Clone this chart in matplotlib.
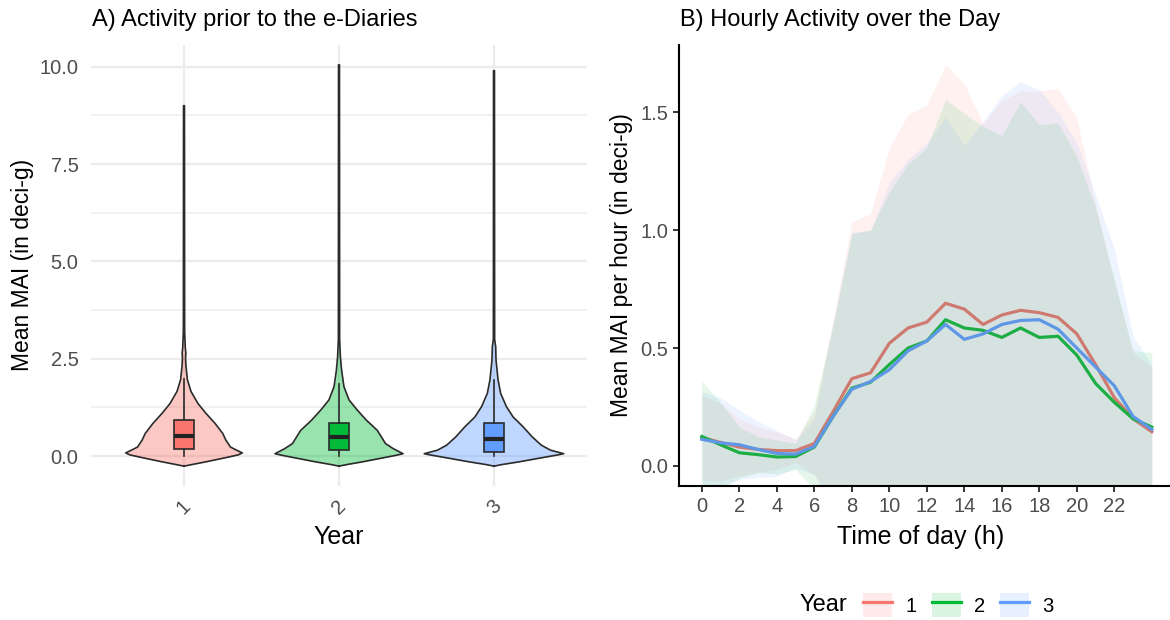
import numpy as np
import matplotlib.pyplot as plt
from matplotlib.lines import Line2D
from matplotlib.patches import Patch
from matplotlib.legend_handler import HandlerTuple

plt.rcParams['font.family'] = ['Liberation Sans', 'DejaVu Sans']

years = ['1', '2', '3']
fill_cols = ['#F8766D', '#00BA38', '#619CFF']
line_cols = ['#CF7A70', '#1DAD45', '#5E97E6']

# --- panel A: violin outlines (y level, half width in x units) ---
violin_y1 = [-0.26, -0.22, -0.15, -0.05, 0.03, 0.08, 0.15, 0.23, 0.41, 0.58, 0.84, 1.09, 1.35, 1.66, 1.96, 2.3, 2.5, 2.65, 2.8, 3.2, 9.0]
violin_w1 = [0.0, 0.05, 0.14, 0.26, 0.35, 0.376, 0.34, 0.30, 0.27, 0.25, 0.20, 0.143, 0.09, 0.045, 0.022, 0.013, 0.010, 0.012, 0.008, 0.004, 0.003]
violin_y2 = [-0.26, -0.22, -0.15, -0.05, 0.02, 0.06, 0.19, 0.32, 0.45, 0.66, 0.92, 1.18, 1.44, 1.78, 2.2, 2.55, 3.0, 10.05]
violin_w2 = [0.0, 0.05, 0.15, 0.28, 0.37, 0.413, 0.35, 0.30, 0.28, 0.247, 0.177, 0.118, 0.065, 0.032, 0.017, 0.009, 0.004, 0.003]
violin_y3 = [-0.26, -0.22, -0.15, -0.05, 0.02, 0.06, 0.15, 0.28, 0.49, 0.75, 1.0, 1.27, 1.61, 1.96, 2.47, 2.8, 3.0, 9.9]
violin_w3 = [0.0, 0.05, 0.16, 0.30, 0.40, 0.45, 0.365, 0.305, 0.247, 0.188, 0.124, 0.08, 0.043, 0.026, 0.013, 0.011, 0.004, 0.003]

# box plot stats per year
box_lo = [0.0, 0.0, 0.0]
box_q1 = [0.19, 0.16, 0.10]
box_med = [0.51, 0.49, 0.45]
box_q3 = [0.92, 0.85, 0.85]
box_hi = [1.97, 1.85, 1.96]

# --- panel B: hourly means and upper ribbon (mean + sd) ---
hours = np.arange(25)
mean_y1 = [0.12, 0.10, 0.08, 0.07, 0.065, 0.065, 0.095, 0.23, 0.37, 0.395, 0.52, 0.585, 0.61, 0.69, 0.665, 0.60, 0.64, 0.66, 0.65, 0.63, 0.56, 0.43, 0.29, 0.20, 0.145]
mean_y2 = [0.125, 0.09, 0.056, 0.048, 0.038, 0.04, 0.08, 0.21, 0.33, 0.355, 0.43, 0.50, 0.53, 0.62, 0.585, 0.575, 0.545, 0.585, 0.545, 0.55, 0.47, 0.35, 0.27, 0.20, 0.165]
mean_y3 = [0.113, 0.098, 0.09, 0.07, 0.053, 0.05, 0.083, 0.21, 0.325, 0.358, 0.408, 0.488, 0.53, 0.60, 0.537, 0.56, 0.60, 0.617, 0.62, 0.58, 0.50, 0.42, 0.34, 0.21, 0.155]
upper_y1 = [0.30, 0.265, 0.20, 0.165, 0.145, 0.115, 0.23, 0.62, 1.035, 1.07, 1.35, 1.49, 1.53, 1.70, 1.62, 1.45, 1.55, 1.59, 1.59, 1.60, 1.475, 1.11, 0.78, 0.48, 0.42]
upper_y2 = [0.36, 0.27, 0.165, 0.125, 0.11, 0.095, 0.26, 0.60, 0.985, 1.0, 1.16, 1.28, 1.35, 1.555, 1.495, 1.44, 1.40, 1.545, 1.446, 1.456, 1.31, 1.095, 0.79, 0.49, 0.48]
upper_y3 = [0.315, 0.29, 0.237, 0.19, 0.15, 0.11, 0.20, 0.60, 0.99, 1.0, 1.2, 1.30, 1.37, 1.48, 1.36, 1.46, 1.57, 1.63, 1.595, 1.50, 1.37, 1.15, 0.92, 0.55, 0.43]

W, H = 1170, 620
fig = plt.figure(figsize=(W / 100, H / 100), dpi=100)
ax1 = fig.add_axes([91 / W, 1 - 486 / H, 496 / W, 441.4 / H])
ax2 = fig.add_axes([679.3 / W, 1 - 486 / H, 495 / W, 441 / H])

tick_grey = '#4D4D4D'

# violins
violins = [(violin_y1, violin_w1), (violin_y2, violin_w2), (violin_y3, violin_w3)]
for i, (vy, vw) in enumerate(violins):
    pos = i + 1
    vy = np.array(vy)
    vw = np.array(vw)
    ax1.fill_betweenx(vy, pos - vw, pos + vw, color=fill_cols[i], alpha=0.4, lw=0, zorder=2)
    ax1.plot(np.r_[pos - vw, (pos + vw)[::-1], pos - vw[0]],
             np.r_[vy, vy[::-1], vy[0]], color='#2B2B2B', lw=1.2, zorder=3)

stats = []
for i in range(3):
    stats.append(dict(med=box_med[i], q1=box_q1[i], q3=box_q3[i],
                      whislo=box_lo[i], whishi=box_hi[i], fliers=[]))
bp = ax1.bxp(stats, positions=[1, 2, 3], widths=0.13, patch_artist=True,
             showfliers=False, showcaps=False, manage_ticks=False,
             boxprops=dict(edgecolor='#2B2B2B', lw=1.2),
             medianprops=dict(color='#222222', lw=3.0),
             whiskerprops=dict(color='#2B2B2B', lw=1.2), zorder=4)
for box, c in zip(bp['boxes'], fill_cols):
    box.set_facecolor(c)

ax1.set_xlim(0.4, 3.6)
ax1.set_ylim(-0.77, 10.57)
ax1.set_xticks([1, 2, 3])
ax1.set_xticklabels(years, rotation=45, ha='center', va='center')
ax1.set_yticks([0, 2.5, 5, 7.5, 10])
ax1.set_yticklabels(['0.0', '2.5', '5.0', '7.5', '10.0'])
ax1.set_yticks([1.25, 3.75, 6.25, 8.75], minor=True)
ax1.grid(which='major', color='#EBEBEB', lw=1.6)
ax1.grid(which='minor', axis='y', color='#EDEDED', lw=1.1)
ax1.set_axisbelow(True)
for s in ax1.spines.values():
    s.set_visible(False)
ax1.tick_params(axis='both', which='both', length=0, labelsize=14.5, labelcolor=tick_grey)
ax1.tick_params(axis='y', pad=9)
ax1.tick_params(axis='x', pad=15)
ax1.set_xlabel('Year', fontsize=18)
ax1.xaxis.set_label_coords(0.5, -0.1155)
ax1.xaxis.label.set_va('center')
ax1.set_ylabel('Mean MAI (in deci-g)', fontsize=16.5)
ax1.yaxis.set_label_coords(-0.139, 0.5)
ax1.yaxis.label.set_va('center')

# ribbons (mean +/- sd) then lines
means = [mean_y1, mean_y2, mean_y3]
uppers = [upper_y1, upper_y2, upper_y3]
for i in range(3):
    m = np.array(means[i])
    up = np.array(uppers[i])
    ax2.fill_between(hours, 2 * m - up, up, color=fill_cols[i], alpha=0.1, lw=0)
for i in range(3):
    ax2.plot(hours, means[i], color=line_cols[i], lw=2.3, solid_joinstyle='round')

ax2.set_xlim(-1.2, 25.2)
ax2.set_ylim(-0.085, 1.785)
ax2.set_xticks(range(0, 23, 2))
ax2.set_yticks([0, 0.5, 1.0, 1.5])
ax2.set_yticklabels(['0.0', '0.5', '1.0', '1.5'])
ax2.spines['top'].set_visible(False)
ax2.spines['right'].set_visible(False)
for s in ['left', 'bottom']:
    ax2.spines[s].set_linewidth(1.5)
ax2.tick_params(axis='both', length=4.3, width=1.1, color='black',
                labelsize=14.5, labelcolor=tick_grey, pad=3.5)
ax2.set_xlabel('Time of day (h)', fontsize=18)
ax2.xaxis.set_label_coords(0.488, -0.1156)
ax2.xaxis.label.set_va('center')
ax2.set_ylabel('Mean MAI per hour (in deci-g)', fontsize=16.5)
ax2.yaxis.set_label_coords(-0.1164, 0.5)
ax2.yaxis.label.set_va('center')

fig.text(92 / W, 1 - 20 / H, 'A) Activity prior to the e-Diaries', fontsize=17, va='center', ha='left')
fig.text(680 / W, 1 - 20 / H, 'B) Hourly Activity over the Day', fontsize=17, va='center', ha='left')

# legend
handles = []
for i in range(3):
    handles.append((Patch(facecolor=fill_cols[i], alpha=0.15, edgecolor='none'),
                    Line2D([], [], color=fill_cols[i], lw=2.3)))
fig.legend(handles, years, handler_map={tuple: HandlerTuple(ndivide=1, pad=0)},
           loc='center left', bbox_to_anchor=(863 / W, 1 - 605 / H), ncol=3,
           frameon=False, fontsize=14.5, handlelength=1.45, handleheight=1.45,
           handletextpad=0.65, columnspacing=0.75, borderpad=0, borderaxespad=0)
fig.text(823 / W, 1 - 605 / H, 'Year', fontsize=17, ha='center', va='center')

fig.savefig('out.png', dpi=100)
